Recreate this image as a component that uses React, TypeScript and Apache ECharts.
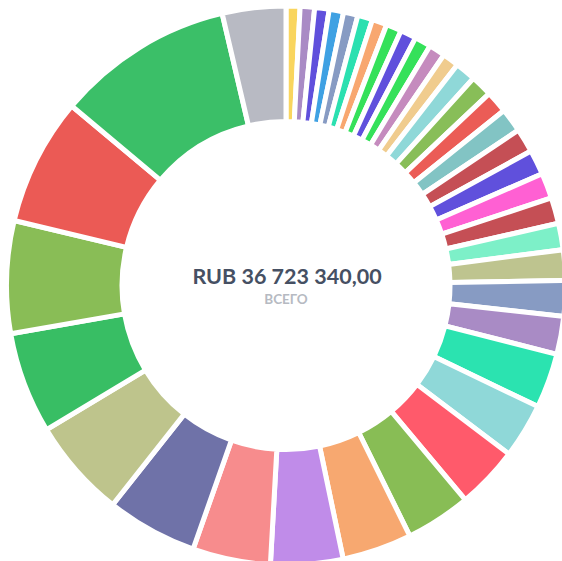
import React, { useEffect, useRef } from "react";
import * as echarts from "echarts";

const categories = [
  "Категория 1", "Категория 2", "Категория 3", "Категория 4", "Категория 5",
  "Категория 6", "Категория 7", "Категория 8", "Категория 9", "Категория 10",
  "Категория 11", "Категория 12", "Категория 13", "Категория 14", "Категория 15",
  "Категория 16", "Категория 17", "Категория 18", "Категория 19", "Категория 20",
  "Категория 21", "Категория 22", "Категория 23", "Категория 24", "Категория 25",
  "Категория 26", "Категория 27", "Категория 28", "Категория 29", "Категория 30",
  "Категория 31", "Категория 32", "Категория 33", "Категория 34", "Категория 35",
  "Категория 36", "Категория 37", "Прочее",
];

const values = [
  296000, 306000, 306000, 306000, 306000,
  316000, 316000, 326000, 337000, 347000,
  347000, 347000, 439000, 459000, 469000,
  510000, 510000, 530000, 541000, 551000,
  561000, 643000, 755000, 806000, 1163000,
  1163000, 1326000, 1387000, 1479000, 1530000,
  1653000, 1928000, 2101000, 2152000, 2387000,
  2703000, 3754000, 1347000,
];

const colors = [
  "#F9D55E", "#A98BC5", "#6050DC", "#3FA1E3", "#879BC3",
  "#2BE0B0", "#F8A770", "#35E15A", "#6050DC", "#35E15A",
  "#C58BBE", "#F0CC8E", "#8FD8D8", "#88BE58", "#EB5C56",
  "#82C4C4", "#C54F55", "#6050DC", "#FF60D3", "#C54F55",
  "#7DF0C8", "#BEC48F", "#879BC3", "#A98BC5", "#2BE3B0",
  "#8FD8D8", "#FF5A6B", "#88BD55", "#F7A870", "#C08CE9",
  "#F78C8D", "#6F72A8", "#BEC48C", "#38BE64", "#89BD56",
  "#EB5A55", "#3BBF68", "#B8BAC3",
];

const totalLabel = "RUB 36 723 340,00";
const subLabel = "ВСЕГО";

export default function App() {
  const ref = useRef<HTMLDivElement>(null);
  useEffect(() => {
    const chart = echarts.init(ref.current!, null, { renderer: "svg" });
    chart.setOption({
      animation: false,
      series: [
        {
          type: "pie",
          center: [286, 285.5],
          radius: [164, 279.5],
          startAngle: 90,
          clockwise: true,
          avoidLabelOverlap: false,
          label: { show: false },
          labelLine: { show: false },
          emphasis: { disabled: true },
          itemStyle: { borderColor: "#ffffff", borderWidth: 5 },
          data: categories.map((name, i) => ({
            name,
            value: values[i],
            itemStyle: { color: colors[i] },
          })),
        },
      ],
      graphic: [
        {
          type: "text",
          x: 287,
          y: 276,
          style: {
            text: totalLabel,
            fontSize: 21.5,
            fontWeight: "bold",
            fontFamily: "Lato",
            fill: "#465063",
            align: "center",
            verticalAlign: "middle",
          },
        },
        {
          type: "text",
          x: 286,
          y: 299,
          style: {
            text: subLabel,
            fontSize: 13.5,
            fontWeight: "bold",
            fontFamily: "Lato",
            fill: "#B6BAC2",
            align: "center",
            verticalAlign: "middle",
          },
        },
      ],
    });
    return () => chart.dispose();
  }, []);
  return (
    <div
      ref={ref}
      style={{ position: "absolute", left: 0, top: 0, width: 562, height: 561 }}
    />
  );
}
